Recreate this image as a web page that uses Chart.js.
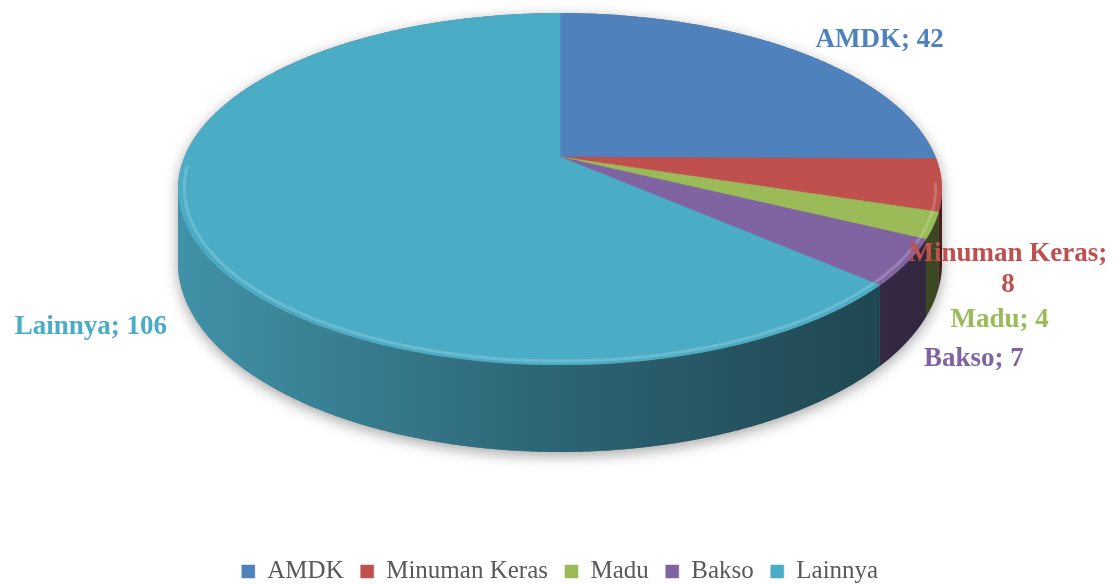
<!DOCTYPE html>
<html>
<head>
<meta charset="utf-8">
<script src="https://cdn.jsdelivr.net/npm/chart.js@4.4.1/dist/chart.umd.min.js"></script>
<style>
    html, body { margin: 0; padding: 0; background: #fff; }
    #wrap { width: 1113px; height: 584px; }
</style>
</head>
<body>
<div id="wrap"><canvas id="chart"></canvas></div>
<script>
// Data
const categories = ['AMDK', 'Minuman Keras', 'Madu', 'Bakso', 'Lainnya'];
const values = [42, 8, 4, 7, 106];
const sliceColors = ['#4F81BD', '#C0504D', '#9BBB59', '#8064A2', '#4BACC6'];

// 3D look: perspective strength, tilt (height / half width), wall depth (/ half width)
const PERSP = 0.182;
const TILT = 0.4456;
const DEPTH = 0.186;
// where each data label sits relative to the rim point at the slice's middle
const labelNudge = [[83, -11], [66, 85], [66, 94], [67, 96], [-99, 94]];

const shade = (hex, f) => {
    const n = parseInt(hex.slice(1), 16);
    const rgb = [(n >> 16) & 255, (n >> 8) & 255, n & 255];
    const m = f < 1 ? c => Math.round(c * f) : c => Math.round(c + (255 - c) * (f - 1));
    return `rgb(${rgb.map(m).join(',')})`;
};

// Perspective projection of the pie plane, sized from the chart area
const proj = (chart) => {
    const ca = chart.chartArea;
    const halfW = (ca.right - ca.left) / 2;
    const A = halfW * Math.sqrt(1 - PERSP * PERSP);
    const B = halfW * TILT;
    const cx = (ca.left + ca.right) / 2;
    const cy = ca.top + B / (1 + PERSP);
    const depth = halfW * DEPTH;
    // u, v: unit circle coords (v > 0 is the front); down: 0 top face, 1 bottom face
    const pt = (u, v, down = 0) => {
        const w = 1 - PERSP * v;
        return [cx + A * u / w, cy + (B * v + down * depth) / w];
    };
    return { cx, cy, A, B, halfW, pt };
};

const rim = (p, t, rho = 1, down = 0) => p.pt(rho * Math.cos(t), rho * Math.sin(t), down);

const pie3d = {
    id: 'pie3d',
    beforeDatasetsDraw(chart) {
        const ctx = chart.ctx;
        const p = proj(chart);
        const meta = chart.getDatasetMeta(0);
        const arcs = meta.data;
        const t1 = Math.asin(PERSP), t2 = Math.PI - t1;
        const STEP = Math.PI / 360;

        // soft shadow under the body
        ctx.save();
        ctx.shadowColor = 'rgba(0,0,0,0.35)';
        ctx.shadowBlur = 14;
        ctx.shadowOffsetY = 4;
        ctx.fillStyle = '#777';
        ctx.beginPath();
        for (let t = t2; t <= 2 * Math.PI + t1 + 1e-9; t += STEP) ctx.lineTo(...rim(p, t));
        for (let t = t1; t <= t2 + 1e-9; t += STEP) ctx.lineTo(...rim(p, t, 1, 1));
        ctx.closePath();
        ctx.fill();
        ctx.restore();

        // side walls on the visible front
        arcs.forEach((el, i) => {
            const a = Math.max(el.startAngle, t1);
            const b = Math.min(el.endAngle, t2);
            if (b <= a) return;
            const col = sliceColors[i];
            const grad = ctx.createLinearGradient(p.cx - p.halfW, 0, p.cx + p.halfW, 0);
            grad.addColorStop(0, shade(col, 0.85));
            grad.addColorStop(0.5, shade(col, 0.58));
            grad.addColorStop(1, shade(col, 0.38));
            const n = Math.max(2, Math.ceil((b - a) / STEP));
            ctx.beginPath();
            for (let k = 0; k <= n; k++) ctx.lineTo(...rim(p, a + (b - a) * k / n));
            for (let k = n; k >= 0; k--) ctx.lineTo(...rim(p, a + (b - a) * k / n, 1, 1));
            ctx.closePath();
            ctx.fillStyle = grad;
            ctx.fill();
        });

        // top face: the library's pie, squashed with the projection's slope at the
        // centre (so every slice edge lands on its projected line), oversized and
        // clipped to the projected rim
        const { x: ex, y: ey, outerRadius: R } = arcs[0];
        const D0 = p.pt(0, 0);
        const sx = 1.4 * p.A / R, sy = 1.4 * p.B / R;
        ctx.save();
        ctx.beginPath();
        for (let t = 0; t < 2 * Math.PI; t += STEP) ctx.lineTo(...rim(p, t));
        ctx.closePath();
        ctx.clip();
        ctx.transform(sx, 0, 0, sy, D0[0] - sx * ex, D0[1] - sy * ey);
        meta.controller.draw();
        ctx.restore();

        // bevel highlight along the front rim
        arcs.forEach((el, i) => {
            const a = Math.max(el.startAngle, 0.15);
            const b = Math.min(el.endAngle, Math.PI - 0.05);
            if (b <= a) return;
            ctx.beginPath();
            for (let t = a; t <= b + 1e-9; t += STEP) ctx.lineTo(...rim(p, t, 0.984));
            ctx.strokeStyle = shade(sliceColors[i], 1.3);
            ctx.globalAlpha = 0.6;
            ctx.lineWidth = 3;
            ctx.stroke();
            ctx.globalAlpha = 1;
        });

        return false;
    },
    afterDraw(chart) {
        const ctx = chart.ctx;
        const p = proj(chart);
        const arcs = chart.getDatasetMeta(0).data;

        // data labels
        ctx.save();
        ctx.font = 'bold 27px "Liberation Serif"';
        ctx.textAlign = 'center';
        ctx.textBaseline = 'middle';
        arcs.forEach((el, i) => {
            const [ax, ay] = rim(p, (el.startAngle + el.endAngle) / 2);
            const [dx, dy] = labelNudge[i];
            const text = `${categories[i]}; ${values[i]}`;
            let lines = [text];
            if (ctx.measureText(text).width > 190) {
                lines = [categories[i] + ';', String(values[i])];
            }
            ctx.fillStyle = sliceColors[i];
            lines.forEach((t, k) => {
                ctx.fillText(t, ax + dx, ay + dy + (k - (lines.length - 1) / 2) * 31);
            });
        });
        ctx.restore();
    }
};

const ctx = document.getElementById('chart').getContext('2d');
new Chart(ctx, {
    type: 'pie',
    data: {
        labels: categories,
        datasets: [{
            data: values,
            backgroundColor: sliceColors,
            borderColor: sliceColors,
            borderWidth: 0.5
        }]
    },
    options: {
        responsive: true,
        maintainAspectRatio: false,
        animation: false,
        events: [],
        layout: { padding: { left: 178, right: 171, top: 13, bottom: -10 } },
        plugins: {
            tooltip: { enabled: false },
            legend: {
                position: 'bottom',
                labels: {
                    color: '#595959',
                    font: { family: '"Liberation Serif"', size: 25 },
                    boxWidth: 13,
                    boxHeight: 13,
                    padding: 17
                }
            }
        }
    },
    plugins: [pie3d]
});
</script>
</body>
</html>
